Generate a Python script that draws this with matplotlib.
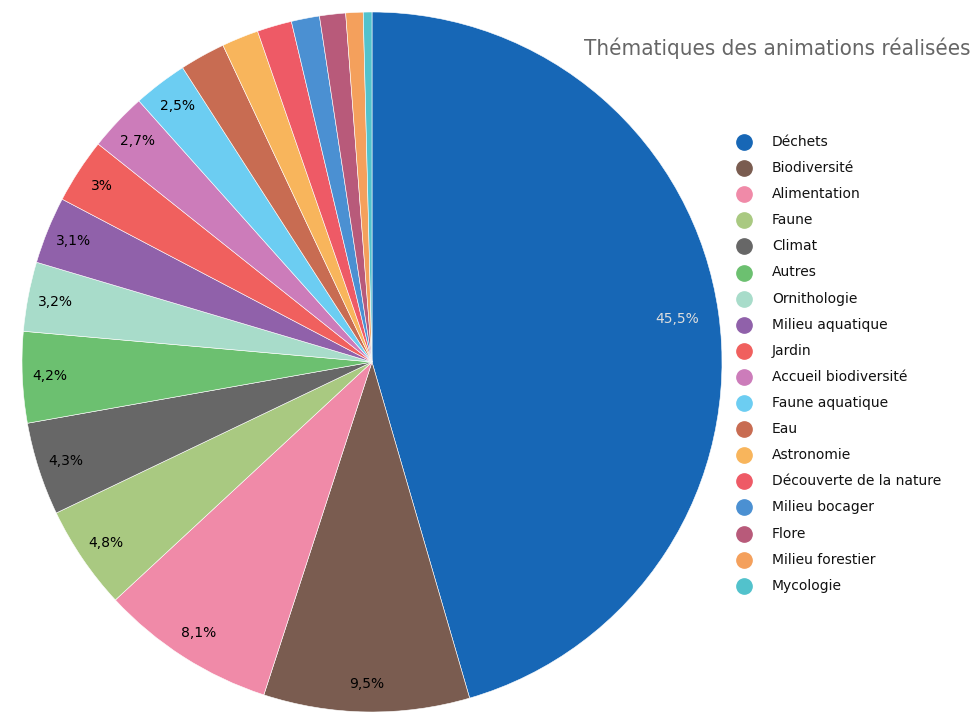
import numpy as np
import matplotlib.pyplot as plt
from matplotlib.lines import Line2D

labels = ['Déchets', 'Biodiversité', 'Alimentation', 'Faune', 'Climat', 'Autres',
          'Ornithologie', 'Milieu aquatique', 'Jardin', 'Accueil biodiversité',
          'Faune aquatique', 'Eau', 'Astronomie', 'Découverte de la nature',
          'Milieu bocager', 'Flore', 'Milieu forestier', 'Mycologie']
values = [45.5, 9.5, 8.1, 4.8, 4.3, 4.2, 3.2, 3.1, 3.0, 2.7, 2.5,
          2.1, 1.7, 1.6, 1.3, 1.2, 0.8, 0.4]
colors = ['#1767b6', '#7a5c50', '#f08aa8', '#a9c981', '#676767', '#6cc070',
          '#a8dcca', '#9061aa', '#f0605e', '#cc7cba', '#6ccdf2', '#c86c52',
          '#f8b55c', '#ee5a66', '#4b90d2', '#b85a7a', '#f4a05c', '#52c2cc']
title = 'Thématiques des animations réalisées'

fig = plt.figure(figsize=(9.73, 7.12), dpi=100)
ax = fig.add_axes([22 / 973, 0, 700 / 973, 700 / 712])

wedges, _ = ax.pie(values, colors=colors, startangle=90, counterclock=False,
                   wedgeprops=dict(edgecolor='white', linewidth=0.4))
ax.set_xlim(-1, 1)
ax.set_ylim(-1, 1)
ax.set_aspect('equal')

# percentage labels, only slices >= 2.5 %
for w, v in zip(wedges, values):
    if v < 2.5:
        continue
    ang = np.deg2rad((w.theta1 + w.theta2) / 2)
    r = 0.88 if v > 40 else 0.92
    txt = f'{v:g}%'.replace('.', ',')
    col = '#dddddd' if v > 40 else 'black'
    ax.text(r * np.cos(ang), r * np.sin(ang), txt, ha='center', va='center',
            fontsize=10, color=col)

fig.text(970 / 973, 1 - 48 / 712, title, ha='right', va='center', fontsize=16,
         color='#666666', family='DejaVu Sans', fontstretch='condensed',
         fontweight='light')

# legend
for i, (lab, c) in enumerate(zip(labels, colors)):
    y = 1 - (142 + i * 26.1) / 712
    fig.add_artist(Line2D([744 / 973], [y], marker='o', markersize=11, color=c,
                          linestyle='none', transform=fig.transFigure))
    fig.text(772 / 973, y, lab, ha='left', va='center', fontsize=10, color='#111111')

fig.savefig('out.png', dpi=100)
